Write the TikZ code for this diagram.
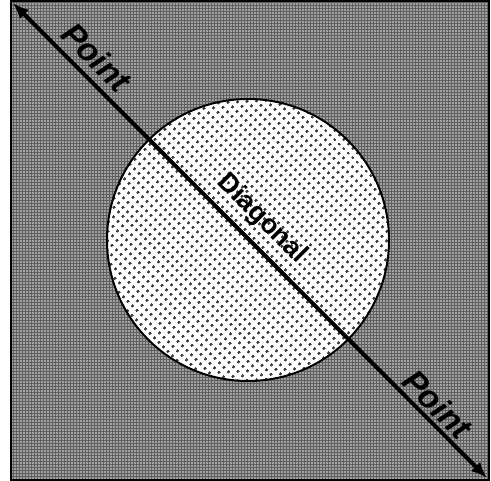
\documentclass[tikz,border=0pt]{standalone}
\usepackage{fontspec}
\setmainfont{Liberation Sans}
\usepackage{tikz}
\usetikzlibrary{arrows.meta,patterns.meta}
\usepackage{xcolor}
\definecolor{ShadeGray}{RGB}{95,95,95}
\definecolor{DotGray}{RGB}{60,60,60}
\tikzset{
  frame/.style={draw=black, line width=2pt,
    preaction={fill=ShadeGray},
    pattern={Dots[distance=3pt, radius=0.8pt]}, pattern color=white!80!gray},
  disc/.style={draw=black, line width=2pt,
    preaction={fill=white},
    pattern={Dots[distance=6.4pt, angle=45, radius=1.6pt]}, pattern color=DotGray},
  diag/.style={{Latex[length=16pt,width=13pt]}-{Latex[length=16pt,width=13pt]},
    line width=4pt, black},
  pointlabel/.style={font=\fontsize{33}{38}\selectfont\bfseries\itshape, sloped, inner sep=0pt},
  diaglabel/.style={font=\fontsize{27}{31}\selectfont\bfseries, sloped, inner sep=0pt}
}
\begin{document}
\begin{tikzpicture}[x=1pt,y=-1pt]
  \useasboundingbox (0,0) rectangle (491,481);
  \path[frame] (11,1) rectangle (489,480);
  \node[disc, circle, minimum size=282pt, inner sep=0pt] (disc) at (248,240) {};
  \coordinate (nw) at (13,3);
  \coordinate (se) at (487,478);
  \draw[diag] (nw) -- (se)
    node[pointlabel, pos=0.145, above=7pt] (ptop) {Point}
    node[diaglabel, pos=0.49, above=9pt] (dlabel) {Diagonal}
    node[pointlabel, pos=0.87, above=3pt] (pbottom) {Point};
\end{tikzpicture}
\end{document}
